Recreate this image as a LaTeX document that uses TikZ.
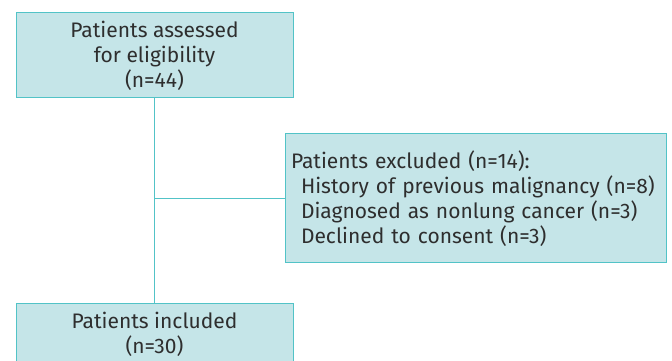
\documentclass[tikz,border=0pt]{standalone}
\usepackage{fontspec}
\setmainfont{Fira Sans}
\usetikzlibrary{positioning}

\definecolor{boxfill}{HTML}{C5E5E8}
\definecolor{boxline}{HTML}{52C3C7}
\definecolor{boxtext}{HTML}{2E2E2E}

\tikzset{
    flowbox/.style = {draw = boxline, fill = boxfill, line width = 1pt,
                      text = boxtext, inner sep = 0pt,
                      font = \fontsize{21}{25}\selectfont},
    flowline/.style = {draw = boxline, line width = 1.5pt}
}

\begin{document}
\begin{tikzpicture}[x = 1pt, y = 1pt]
        \useasboundingbox (0, 0) rectangle (672, 361);

        \node (assessed) [flowbox, minimum width = 277pt, minimum height = 85pt, align = center]
            at (154.5, 305.5) {Patients assessed\\for eligibility\\(n=44)};
        \node (excluded) [flowbox, minimum width = 381pt, minimum height = 129pt,
            inner xsep = 6pt, text width = 369pt, align = left]
            at (475.5, 162.5) {Patients excluded (n=14):\\
                \hspace*{10pt}History of previous malignancy (n=8)\\
                \hspace*{10pt}Diagnosed as nonlung cancer (n=3)\\
                \hspace*{10pt}Declined to consent (n=3)};
        \node (included) [flowbox, minimum width = 277pt, minimum height = 61pt, align = center]
            at (154.5, 26.5) {Patients included\\(n=30)};

        \coordinate (branch) at (assessed.south |- excluded.west);

        \draw [flowline] (assessed) -- (included);
        \draw [flowline] (branch) -- (excluded);
    \end{tikzpicture}
\end{document}
